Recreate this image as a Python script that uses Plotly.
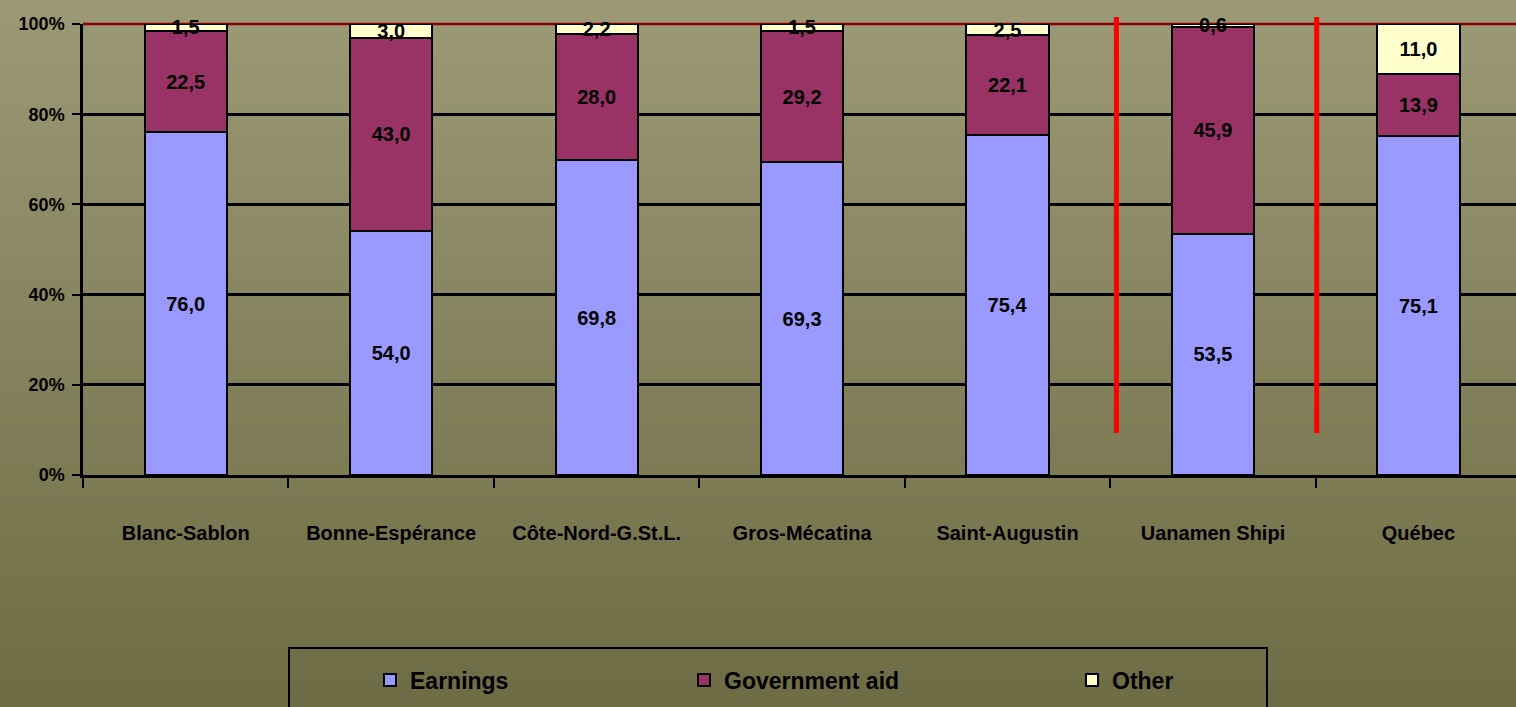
import plotly.graph_objects as go

categories = ["Blanc-Sablon", "Bonne-Espérance", "Côte-Nord-G.St.L.", "Gros-Mécatina",
              "Saint-Augustin", "Uanamen Shipi", "Québec"]
earnings = [76.0, 54.0, 69.8, 69.3, 75.4, 53.5, 75.1]
gov_aid = [22.5, 43.0, 28.0, 29.2, 22.1, 45.9, 13.9]
other = [1.5, 3.0, 2.2, 1.5, 2.5, 0.6, 11.0]
y_ticks = [0, 20, 40, 60, 80, 100]
y_ticklabels = ["0%", "20%", "40%", "60%", "80%", "100%"]

FONT = "Liberation Sans, Arial, sans-serif"
W, H = 1516, 707
ML, MR, MT, MB = 83, 0, 24, 232
PW, PH = W - ML - MR, H - MT - MB


def px_to_paper_y(py):
    return (H - MB - py) / PH


def px_to_paper_x(px):
    return (px - ML) / PW


fig = go.Figure()
series = [("Earnings", earnings, "#9999FF", "legend"),
          ("Government aid", gov_aid, "#993366", "legend2"),
          ("Other", other, "#FFFFCC", "legend3")]
for name, vals, color, lg in series:
    fig.add_trace(go.Bar(
        x=categories, y=vals, name=name, legend=lg, showlegend=True,
        marker=dict(color=color, line=dict(color="black", width=2)),
        width=0.4,
        text=vals, texttemplate="%{y:.1f}", textposition="inside",
        insidetextanchor="middle", textangle=0, constraintext="none",
        cliponaxis=False,
        textfont=dict(family=FONT, size=20, color="black", weight="bold"),
        hoverinfo="skip",
    ))

shapes = []
# gradient background
n = 80
top = (156, 154, 118)
bot = (110, 108, 68)
y0p, y1p = px_to_paper_y(H + 2), px_to_paper_y(-2)
for i in range(n):
    t = i / (n - 1)
    c = tuple(int(round(top[k] + (bot[k] - top[k]) * t)) for k in range(3))
    ya = y1p - (y1p - y0p) * i / n
    yb = y1p - (y1p - y0p) * (i + 1) / n - 0.002
    shapes.append(dict(type="rect", xref="paper", yref="paper",
                       x0=px_to_paper_x(-2), x1=px_to_paper_x(W + 2), y0=yb, y1=ya,
                       fillcolor="rgb(%d,%d,%d)" % c, line=dict(width=0), layer="below"))
# 100% line (dark red)
shapes.append(dict(type="line", xref="paper", yref="paper", x0=0, x1=1, y0=1, y1=1,
                   line=dict(color="#8B0000", width=2.5), layer="below"))
# red separators
for xv in [4.53, 5.505]:
    shapes.append(dict(type="line", xref="x", yref="paper", x0=xv, x1=xv,
                       y0=px_to_paper_y(433), y1=px_to_paper_y(17),
                       line=dict(color="#FF0000", width=5), layer="above"))
# legend box
shapes.append(dict(type="rect", xref="paper", yref="paper",
                   x0=px_to_paper_x(289), x1=px_to_paper_x(1267),
                   y0=px_to_paper_y(720), y1=px_to_paper_y(648),
                   line=dict(color="black", width=2), fillcolor="rgba(0,0,0,0)", layer="above"))

legend_common = dict(orientation="v", yanchor="middle", xanchor="left",
                     bgcolor="rgba(0,0,0,0)", borderwidth=0,
                     font=dict(family=FONT, size=23, color="black", weight="bold"))
fig.update_layout(
    width=W, height=H,
    margin=dict(l=ML, r=MR, t=MT, b=MB, pad=0, autoexpand=False),
    paper_bgcolor="#8a8860", plot_bgcolor="rgba(0,0,0,0)",
    barmode="stack", bargap=0.6,
    separators=", ",
    showlegend=True,
    uniformtext=dict(minsize=20, mode="show"),
    shapes=shapes,
    legend=dict(x=px_to_paper_x(370), y=px_to_paper_y(680), **legend_common),
    legend2=dict(x=px_to_paper_x(684), y=px_to_paper_y(680), **legend_common),
    legend3=dict(x=px_to_paper_x(1072), y=px_to_paper_y(680), **legend_common),
    xaxis=dict(type="category", range=[-0.5, 6.475], showgrid=False, automargin=False,
               showline=True, linecolor="black", linewidth=2.5, tickangle=0,
               ticks="outside", tickson="boundaries", ticklen=10, tickwidth=2, tickcolor="black",
               ticklabelstandoff=38,
               tickfont=dict(family=FONT, size=20, color="black", weight="bold")),
    yaxis=dict(range=[0, 100], tickvals=y_ticks, ticktext=y_ticklabels, automargin=False,
               showgrid=True, gridcolor="black", gridwidth=2.5, zeroline=False,
               showline=True, linecolor="black", linewidth=2.5,
               ticks="outside", ticklen=8, tickwidth=2, tickcolor="black",
               ticklabelstandoff=4,
               tickfont=dict(family=FONT, size=18, color="black", weight="bold")),
)

fig.write_html("out.html", config={"displayModeBar": False},
               post_script="document.body.style.margin='0';document.body.style.overflow='hidden';")
